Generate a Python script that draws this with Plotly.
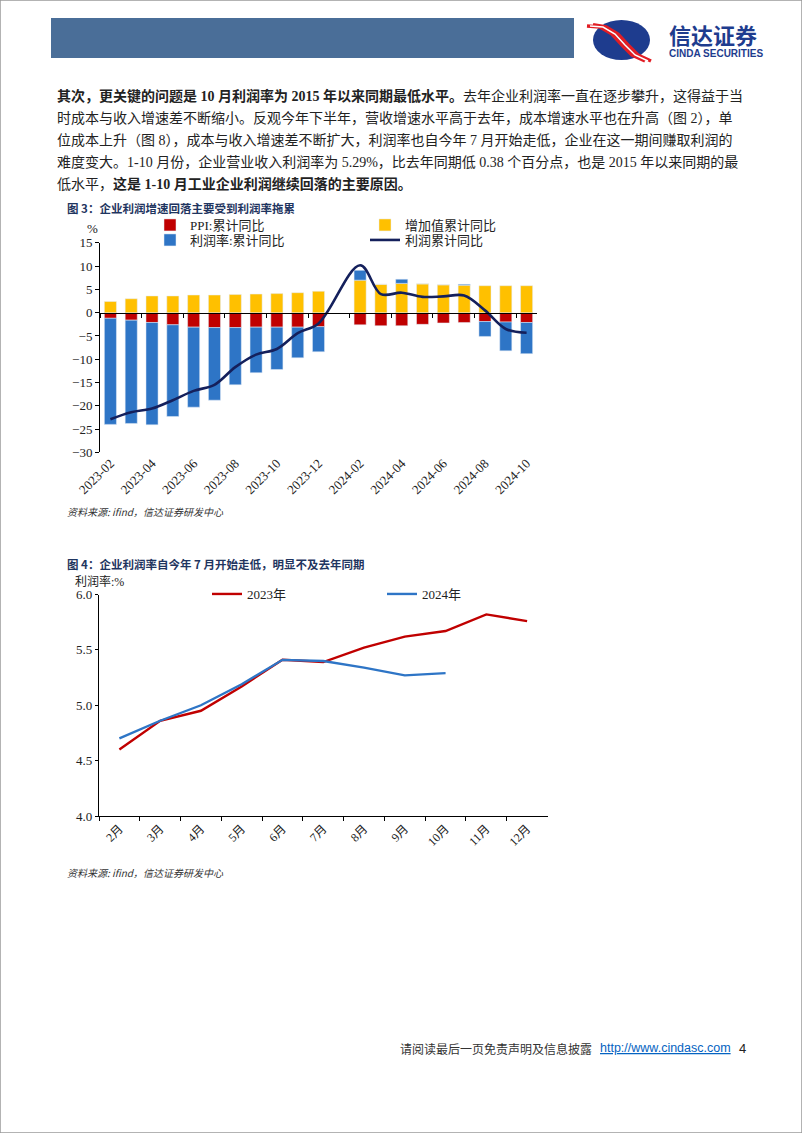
import plotly.graph_objects as go

W, H = 802, 1133
def px(x): return x / W
def py(y): return 1 - y / H

# ---------------- data: chart 1 ----------------
months1 = ['2023-02', '2023-03', '2023-04', '2023-05', '2023-06', '2023-07', '2023-08',
           '2023-09', '2023-10', '2023-11', '2023-12', '2024-01', '2024-02', '2024-03',
           '2024-04', '2024-05', '2024-06', '2024-07', '2024-08', '2024-09', '2024-10']
ppi_cum = [-1.2, -1.6, -2.1, -2.6, -3.1, -3.2, -3.2, -3.1, -3.1, -3.1, -3.0, None,
           -2.6, -2.8, -2.8, -2.5, -2.2, -2.1, -1.9, -2.0, -2.1]
va_cum = [2.4, 3.0, 3.6, 3.6, 3.8, 3.8, 3.9, 4.0, 4.1, 4.3, 4.6, None,
          7.0, 6.1, 6.3, 6.2, 6.0, 5.9, 5.8, 5.8, 5.8]
margin_cum = [-22.8, -22.2, -22.0, -19.7, -17.2, -15.6, -12.3, -9.8, -9.1, -6.6, -5.4, None,
              2.1, 0.0, 0.9, 0.0, 0.0, 0.2, -3.2, -6.2, -6.7]
profit_cum = [-22.9, -21.4, -20.6, -18.8, -16.8, -15.5, -11.7, -9.0, -7.8, -4.4, -2.3, None,
              10.2, 4.0, 4.3, 3.4, 3.5, 3.7, 0.5, -3.5, -4.3]

# ---------------- data: chart 2 ----------------
months2 = ['2月', '3月', '4月', '5月', '6月', '7月', '8月', '9月', '10月', '11月', '12月']
rate_2023 = [4.60, 4.86, 4.95, 5.17, 5.41, 5.39, 5.52, 5.62, 5.67, 5.82, 5.76]
rate_2024 = [4.70, 4.86, 5.00, 5.19, 5.41, 5.40, 5.34, 5.27, 5.29]

SERIF = "Liberation Serif, Noto Sans CJK SC, serif"
CJK = "Noto Sans CJK SC, sans-serif"
TXT = "#222222"

fig = go.Figure()

# chart 1 traces (stack order: PPI, value added, margin)
fig.add_trace(go.Bar(x=months1, y=ppi_cum, name='PPI:累计同比', marker_color='#C00000',
                     xaxis='x', yaxis='y', legend='legend', showlegend=True))
fig.add_trace(go.Bar(x=months1, y=va_cum, name='增加值累计同比', marker_color='#FFC000',
                     xaxis='x', yaxis='y', legend='legend2', showlegend=True))
fig.add_trace(go.Bar(x=months1, y=margin_cum, name='利润率:累计同比', marker_color='#2E75C6',
                     xaxis='x', yaxis='y', legend='legend3', showlegend=True))
fig.add_trace(go.Scatter(x=months1, y=profit_cum, name='利润累计同比', mode='lines',
                         line=dict(color='#14205C', width=2.6, shape='spline', smoothing=1.0),
                         connectgaps=True, xaxis='x2', yaxis='y', legend='legend4',
                         showlegend=True))

# chart 2 traces
fig.add_trace(go.Scatter(x=months2, y=rate_2023, name='2023年', mode='lines',
                         line=dict(color='#C00000', width=2.4),
                         xaxis='x3', yaxis='y3', legend='legend5', showlegend=True))
fig.add_trace(go.Scatter(x=months2[:len(rate_2024)], y=rate_2024, name='2024年', mode='lines',
                         line=dict(color='#2E75C6', width=2.4),
                         xaxis='x3', yaxis='y3', legend='legend5', showlegend=True))

tickfont = dict(family=SERIF, size=13, color=TXT)
legfont = dict(family=SERIF, size=13, color=TXT)

def leg(x, y, **kw):
    d = dict(x=px(x), y=py(y), xanchor='left', yanchor='middle', orientation='v',
             bgcolor='rgba(0,0,0,0)', font=legfont, tracegroupgap=0, visible=True)
    d.update(kw)
    return d

fig.update_layout(
    width=W, height=H, margin=dict(l=0, r=0, t=0, b=0, autoexpand=False),
    paper_bgcolor='white', plot_bgcolor='white', showlegend=True,
    barmode='relative', bargap=0.42,
    xaxis=dict(domain=[px(100), px(537)], anchor='y', type='category',
               categoryorder='array', categoryarray=months1, range=[-0.5, 20.5],
               tickmode='linear', tick0=0, dtick=2, tickangle=-45, ticks='',
               showline=False, showgrid=False, zeroline=False, tickfont=tickfont),
    xaxis2=dict(domain=[px(100), px(537)], overlaying='x', anchor='free', position=py(312.7),
                type='category', categoryorder='array', categoryarray=months1,
                range=[-0.5, 20.5], tickmode='linear', tick0=0, dtick=2,
                tickson='boundaries', ticks='outside', ticklen=4, tickcolor='black',
                showline=True, linecolor='black', linewidth=1, showgrid=False,
                zeroline=False, showticklabels=False),
    yaxis=dict(domain=[py(452.3), py(242.9)], anchor='x', range=[-30, 15], dtick=5,
               ticks='outside', ticklen=4, tickcolor='black', showline=True,
               linecolor='black', linewidth=1, showgrid=False, zeroline=False,
               tickfont=tickfont),
    xaxis3=dict(domain=[px(99), px(547.5)], anchor='y3', type='category',
                categoryorder='array', categoryarray=months2, range=[-0.5, 10.5],
                tickson='boundaries', ticks='outside', ticklen=4, tickcolor='black',
                tickangle=-45, showline=True, linecolor='black', linewidth=1.2,
                showgrid=False, zeroline=False, tickfont=dict(family=SERIF, size=12, color=TXT)),
    yaxis3=dict(domain=[py(816), py(594.5)], anchor='x3', range=[4, 6], dtick=0.5,
                tickformat='.1f', ticks='outside', ticklen=3, tickcolor='black',
                showline=True, linecolor='black', linewidth=1.2, showgrid=False,
                zeroline=False, tickfont=tickfont),
    legend=leg(150, 225),
    legend2=leg(365, 225),
    legend3=leg(150, 240),
    legend4=leg(365, 240),
    legend5=dict(x=px(207), y=py(579), xanchor='left', yanchor='top', orientation='h',
                 entrywidth=130, bgcolor='rgba(0,0,0,0)', font=legfont),
)

shapes = []
# page border
shapes.append(dict(type='rect', xref='paper', yref='paper', x0=0, x1=1, y0=0, y1=1,
                   line=dict(color='#9a9a9a', width=1.5), fillcolor='rgba(0,0,0,0)'))
# header bar
shapes.append(dict(type='rect', xref='paper', yref='paper', x0=px(51), x1=px(574),
                   y0=py(58), y1=py(18), line=dict(width=0), fillcolor='#4A6E98'))
# logo ellipse
shapes.append(dict(type='circle', xref='paper', yref='paper', x0=px(593), x1=px(650),
                   y0=py(60), y1=py(20), line=dict(width=0), fillcolor='#1E3C8E'))
def ppath(pts):
    return 'M ' + ' L '.join(f'{px(a):.5f},{py(b):.5f}' for a, b in pts)
for off in [0, 6]:
    pts = [(587 + off, 26 - off * 0.2), (600 + off, 27), (612 + off, 34), (622 + off, 45),
           (632 + off, 55), (645 + off, 61)]
    shapes.append(dict(type='path', xref='paper', yref='paper', path=ppath(pts),
                       line=dict(color='#E11D24', width=3.5)))
pts = [(590, 26), (603, 27), (615, 34), (625, 45), (635, 55), (648, 61)]
shapes.append(dict(type='path', xref='paper', yref='paper', path=ppath(pts),
                   line=dict(color='white', width=1.5)))

annotations = []
def ann(x, y, text, size, color=TXT, family=CJK, xanchor='left', yanchor='middle'):
    annotations.append(dict(x=px(x), y=py(y), xref='paper', yref='paper', text=text,
                            showarrow=False, xanchor=xanchor, yanchor=yanchor,
                            font=dict(family=family, size=size, color=color)))

# logo text
ann(667, 34, '<b>信达证券</b>', 22, color='#1E3C8E')
ann(667, 54, '<b>CINDA SECURITIES</b>', 10, color='#1E3C8E', family='Arial, Liberation Sans')

# paragraph
PF = "Liberation Serif, Noto Sans CJK SC"
para = [
    '<b>其次，更关键的问题是 10 月利润率为 2015 年以来同期最低水平。</b>去年企业利润率一直在逐步攀升，这得益于当',
    '时成本与收入增速差不断缩小。反观今年下半年，营收增速水平高于去年，成本增速水平也在升高（图 2），单',
    '位成本上升（图 8），成本与收入增速差不断扩大，利润率也自今年 7 月开始走低，企业在这一期间赚取利润的',
    '难度变大。1-10 月份，企业营业收入利润率为 5.29%，比去年同期低 0.38 个百分点，也是 2015 年以来同期的最',
    '低水平，<b>这是 1-10 月工业企业利润继续回落的主要原因。</b>',
]
for i, line in enumerate(para):
    ann(55, 96 + 22 * i, line, 14, family=PF)

# chart 1 texts
ann(65, 208, '<b>图 3：企业利润增速回落主要受到利润率拖累</b>', 11.5, color='#1F3560')
ann(92, 228, '%', 13, family=SERIF, xanchor='center')
ann(65, 512, '<i>资料来源: ifind，信达证券研发中心</i>', 10, color='#333333')

# chart 2 texts
ann(65, 564, '<b>图 4：企业利润率自今年 7 月开始走低，明显不及去年同期</b>', 11.5, color='#1F3560')
ann(73, 581, '利润率:%', 12, family=SERIF)
ann(65, 872, '<i>资料来源: ifind，信达证券研发中心</i>', 10, color='#333333')

# footer
ann(398, 1048, '请阅读最后一页免责声明及信息披露', 12, color='#333333')
ann(598, 1048, '<u>http://www.cindasc.com</u>', 12.5, color='#0563C1', family='Arial, Liberation Sans')
ann(737, 1048, '4', 13, color='#222222', family='Arial, Liberation Sans')

fig.update_layout(shapes=shapes, annotations=annotations)

fig.write_html("out.html")
